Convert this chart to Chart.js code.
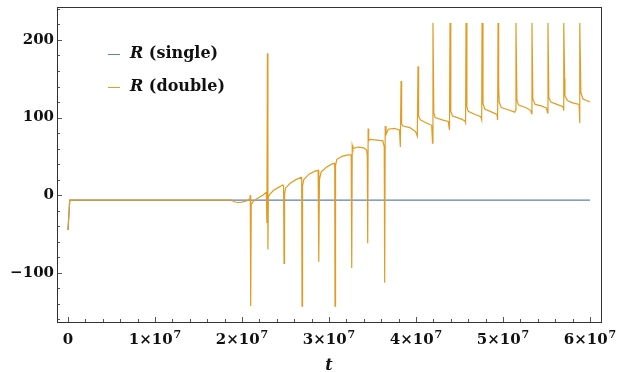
<!DOCTYPE html>
<html>
<head>
<meta charset="utf-8">
<script src="https://cdn.jsdelivr.net/npm/chart.js@4.4.1/dist/chart.umd.min.js"></script>
<style>
  html, body { margin: 0; padding: 0; background: #fff; }
  canvas { display: block; }
</style>
</head>
<body>
<canvas id="r-chart" width="630" height="372"></canvas>
<script>
// R(t) in single vs double precision
var singleT = [0, 2e5, 6e7];
var singleR = [-45, -6.5, -6.5];

var doubleT = [
    0, 2e5, 1.88e7, 1.91e7, 1.95e7, 2.00e7, 2.05e7, 2.09e7, 2.095e7, 2.100e7, 2.106e7, 2.13e7, 2.18e7, 2.24e7, 2.28e7,
    2.286e7, 2.292e7, 2.298e7, 2.303e7, 2.32e7, 2.36e7, 2.42e7, 2.47e7,
    2.478e7, 2.483e7, 2.489e7, 2.50e7, 2.55e7, 2.62e7, 2.68e7,
    2.686e7, 2.690e7, 2.696e7, 2.71e7, 2.77e7, 2.84e7, 2.875e7,
    2.880e7, 2.885e7, 2.890e7, 2.91e7, 2.97e7, 3.03e7, 3.062e7,
    3.066e7, 3.069e7, 3.075e7, 3.09e7, 3.15e7, 3.22e7, 3.255e7,
    3.260e7, 3.263e7, 3.267e7, 3.275e7, 3.33e7, 3.40e7, 3.432e7,
    3.440e7, 3.445e7, 3.450e7, 3.456e7, 3.47e7, 3.55e7, 3.62e7,
    3.635e7, 3.640e7, 3.646e7, 3.655e7, 3.68e7, 3.75e7, 3.81e7,
    3.82e7, 3.828e7, 3.835e7, 3.85e7, 3.93e7, 3.995e7,
    4.015e7, 4.023e7, 4.030e7, 4.05e7, 4.12e7, 4.18e7,
    4.19e7, 4.195e7, 4.205e7, 4.22e7, 4.30e7, 4.37e7,
    4.385e7, 4.391e7, 4.40e7, 4.42e7, 4.50e7, 4.56e7,
    4.57e7, 4.575e7, 4.585e7, 4.60e7, 4.68e7, 4.745e7,
    4.755e7, 4.759e7, 4.77e7, 4.79e7, 4.87e7, 4.93e7,
    4.938e7, 4.943e7, 4.948e7, 4.952e7, 4.956e7, 4.98e7, 5.06e7, 5.135e7,
    5.145e7, 5.149e7, 5.16e7, 5.18e7, 5.26e7, 5.32e7,
    5.328e7, 5.333e7, 5.343e7, 5.37e7, 5.44e7, 5.50e7,
    5.512e7, 5.517e7, 5.527e7, 5.55e7, 5.62e7, 5.69e7,
    5.696e7, 5.701e7, 5.708e7, 5.712e7, 5.74e7, 5.80e7, 5.875e7,
    5.880e7, 5.885e7, 5.895e7, 5.92e7, 6.00e7
];
var doubleR = [
    -45, -6.5, -6.5, -8.5, -9.5, -9, -7.5, -5, 0, -143, -12, -8, -4, 0, 4,
    -36, 183, -70, -2, 1, 6, 10, 13,
    12, -88, 0, 9, 15, 20, 23,
    20, -143, 12, 20, 27, 31, 32,
    27, -86, 20, 30, 36, 40, 41,
    36, -143, 38, 46, 50, 52, 52,
    45, -94, 64, 60, 62, 61, 58,
    52, -62, 86, 70, 72, 71, 70,
    62, -113, 89, 78, 85, 86, 84,
    62, 147, 92, 89, 87, 82,
    76, 166, 102, 97, 93, 90,
    67, 222, 106, 100, 97, 95,
    84, 222, 108, 102, 99, 96,
    93, 222, 114, 108, 104, 101,
    97, 222, 118, 111, 107, 104,
    97, 222, 125, 142, 120, 113, 110, 107,
    110, 222, 122, 116, 113, 109,
    105, 222, 124, 117, 115, 112,
    106, 222, 126, 120, 117, 114,
    109, 222, 150, 128, 122, 119, 117,
    93, 222, 132, 124, 120
];

var xTickValues = [0, 1e7, 2e7, 3e7, 4e7, 5e7, 6e7];
var xTickMantissa = ['0', '1', '2', '3', '4', '5', '6'];
var yTickValues = [-100, 0, 100, 200];
var yTickLabels = ['−100', '0', '100', '200'];
var seriesNames = ['(single)', '(double)'];

var blue = '#5E81B5';
var orange = '#E19C24';
var fontFam = '"DejaVu Serif", serif';

function toPoints(ts, vs) {
    return ts.map(function(t, i) { return {x: t, y: vs[i]}; });
}

// frame with inward ticks, like the original plot
var framePlugin = {
    id: 'frame',
    afterDraw: function(chart) {
        var ctx = chart.ctx, a = chart.chartArea;
        var xs = chart.scales.x, ys = chart.scales.y;
        ctx.save();
        ctx.strokeStyle = '#555';
        ctx.lineWidth = 1;
        ctx.beginPath();
        for (var v = -160; v <= 240; v += 20) {
            var py = Math.round(ys.getPixelForValue(v)) + 0.5;
            var len = (v % 100 === 0) ? 5 : 3;
            ctx.moveTo(a.left, py);
            ctx.lineTo(a.left + len, py);
        }
        for (var t = 0; t <= 6e7; t += 2e6) {
            var px = Math.round(xs.getPixelForValue(t)) + 0.5;
            var l2 = (t % 1e7 === 0) ? 5 : 3;
            ctx.moveTo(px, a.bottom);
            ctx.lineTo(px, a.bottom - l2);
        }
        ctx.stroke();
        ctx.strokeStyle = '#333';
        ctx.strokeRect(Math.round(a.left) + 0.5, Math.round(a.top) + 0.5,
            Math.round(a.right - a.left), Math.round(a.bottom - a.top));
        ctx.restore();
    }
};

// x tick labels with a real superscript exponent
var xLabelPlugin = {
    id: 'xlabels',
    afterDraw: function(chart) {
        var ctx = chart.ctx, xs = chart.scales.x, a = chart.chartArea;
        var base = a.bottom + 22;
        ctx.save();
        ctx.fillStyle = '#111';
        ctx.textBaseline = 'alphabetic';
        ctx.textAlign = 'left';
        xTickValues.forEach(function(v, i) {
            var px = xs.getPixelForValue(v);
            var main = v === 0 ? '0' : xTickMantissa[i] + '×10';
            ctx.font = 'bold 15px ' + fontFam;
            var w1 = ctx.measureText(main).width;
            var w2 = 0;
            if (v !== 0) {
                ctx.font = 'bold 11px ' + fontFam;
                w2 = ctx.measureText('7').width + 1;
            }
            var x0 = px - (w1 + w2) / 2;
            ctx.font = 'bold 15px ' + fontFam;
            ctx.fillText(main, x0, base);
            if (v !== 0) {
                ctx.font = 'bold 11px ' + fontFam;
                ctx.fillText('7', x0 + w1 + 1, base - 6);
            }
        });
        ctx.restore();
    }
};

// legend: italic R plus plain label
var legendPlugin = {
    id: 'rlegend',
    afterDraw: function(chart) {
        var ctx = chart.ctx;
        var colors = [blue, orange];
        var rows = [54, 87];
        ctx.save();
        ctx.textBaseline = 'middle';
        ctx.fillStyle = '#111';
        for (var i = 0; i < 2; i++) {
            var y = rows[i];
            ctx.strokeStyle = colors[i];
            ctx.lineWidth = 1;
            ctx.beginPath();
            ctx.moveTo(108, y + 0.5);
            ctx.lineTo(120, y + 0.5);
            ctx.stroke();
            ctx.font = 'italic bold 16px ' + fontFam;
            ctx.fillText('R', 130, y);
            var w = ctx.measureText('R ').width;
            ctx.font = 'bold 16px ' + fontFam;
            ctx.fillText(seriesNames[i], 130 + w, y);
        }
        ctx.restore();
    }
};

var config = {
    type: 'line',
    data: {
        datasets: [{
            label: 'R (single)',
            data: toPoints(singleT, singleR),
            borderColor: blue,
            borderWidth: 1.2,
            pointRadius: 0,
            tension: 0,
            order: 1
        }, {
            label: 'R (double)',
            data: toPoints(doubleT, doubleR),
            borderColor: orange,
            borderWidth: 1.2,
            pointRadius: 0,
            tension: 0,
            order: 0
        }]
    },
    options: {
        responsive: false,
        animation: false,
        devicePixelRatio: 1,
        layout: { padding: { left: 0, right: 29, top: 7, bottom: 0 } },
        plugins: {
            legend: { display: false },
            tooltip: { enabled: false }
        },
        scales: {
            x: {
                type: 'linear',
                min: -1.264e6,
                max: 6.1264e7,
                afterBuildTicks: function(s) {
                    s.ticks = xTickValues.map(function(v) { return {value: v}; });
                },
                afterFit: function(s) {
                    s.height = 50;
                    s.paddingLeft = 0;
                    s.paddingRight = 0;
                },
                grid: { display: false, drawTicks: false },
                border: { display: false },
                ticks: { display: false },
                title: {
                    display: true,
                    text: 't',
                    color: '#111',
                    padding: { top: 0, bottom: -3 },
                    font: { family: fontFam, size: 16, weight: 'bold', style: 'italic' }
                }
            },
            y: {
                min: -163.5,
                max: 242.5,
                afterBuildTicks: function(s) {
                    s.ticks = yTickValues.map(function(v) { return {value: v}; });
                },
                afterFit: function(s) {
                    s.width = 57;
                    s.paddingTop = 0;
                    s.paddingBottom = 0;
                },
                grid: { display: false, drawTicks: false },
                border: { display: false },
                ticks: {
                    autoSkip: false,
                    padding: 3,
                    color: '#111',
                    font: { family: fontFam, size: 15, weight: 'bold' },
                    callback: function(v) {
                        var i = yTickValues.indexOf(v);
                        return i >= 0 ? yTickLabels[i] : '';
                    }
                }
            }
        }
    },
    plugins: [framePlugin, xLabelPlugin, legendPlugin]
};

window.onload = function() {
    var ctx = document.getElementById('r-chart').getContext('2d');
    window.rChart = new Chart(ctx, config);
};
</script>
</body>
</html>
